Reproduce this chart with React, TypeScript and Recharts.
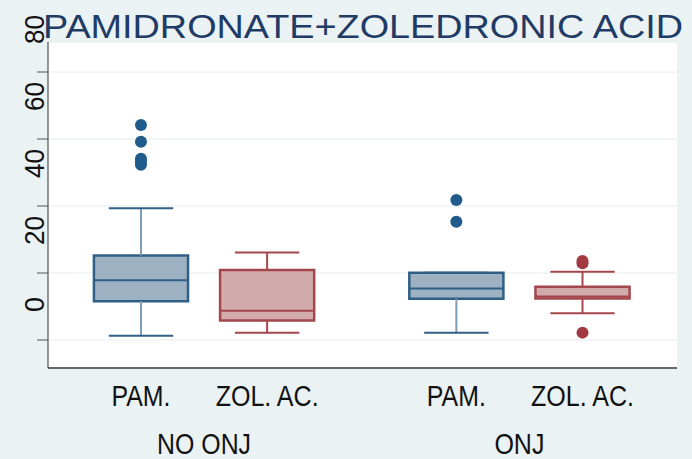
import {
  CartesianGrid,
  ComposedChart,
  ReferenceArea,
  ReferenceLine,
  Scatter,
  XAxis,
  YAxis,
} from 'recharts'

const title = 'PAMIDRONATE+ZOLEDRONIC ACID'
const groups = ['NO ONJ', 'ONJ']
const drugs = ['PAM.', 'ZOL. AC.']
const yTicks = [0, 20, 40, 60, 80]

// box order: PAM/NO ONJ, ZOL/NO ONJ, PAM/ONJ, ZOL/ONJ
const boxDrug = [0, 1, 0, 1]
const boxGroup = [0, 0, 1, 1]
const whiskerLow = [1.3, 2.2, 2.2, 8.0]
const q1 = [11.6, 5.8, 12.3, 12.4]
const median = [17.8, 8.7, 15.4, 13.0]
const q3 = [25.2, 20.9, 20.1, 15.9]
const whiskerHigh = [39.3, 26.1, 20.1, 20.4]
const outliers = [
  [64.2, 59.2, 54.1, 53.2, 52.3],
  [],
  [41.8, 35.3],
  [23.6, 22.9, 2.2],
]

const W = 692
const H = 459
const FONT = "'Liberation Sans', Arial, sans-serif"
const BOX_HALF = 0.373
const CAP_HALF = 0.255

const palette = [
  { fill: '#9DB1C3', stroke: '#2F5F86', whisker: '#7D9CB6', dot: '#1F5C8B' },
  { fill: '#D2ABAD', stroke: '#A4474D', whisker: '#A8494F', dot: '#A23B41' },
]

// slot position on the x scale: two boxes per group, a wider gap between groups
const positions = boxDrug.map((d, i) => 1 + d + boxGroup[i] * 2.5)
const groupCenters = groups.map((_, g) => 1.5 + g * 2.5)

const drugLength = [59, 103]
const groupLength = [94, 50]

function YTick(props: any) {
  const { y, payload } = props
  return (
    <text
      transform={`translate(44, ${y - 28}) rotate(-90)`}
      textAnchor="start"
      fontSize={27}
      fontFamily={FONT}
      fill="#111"
      textLength={payload.value === 0 ? 15 : 29}
      lengthAdjust="spacingAndGlyphs"
    >
      {payload.value}
    </text>
  )
}

function DrugTick(props: any) {
  const { x, y, index } = props
  const d = index % 2
  return (
    <text
      x={x}
      y={y + 38}
      textAnchor="middle"
      fontSize={30}
      fontFamily={FONT}
      fill="#111"
      textLength={drugLength[d]}
      lengthAdjust="spacingAndGlyphs"
    >
      {drugs[d]}
    </text>
  )
}

function GroupTick(props: any) {
  const { x, y, index } = props
  return (
    <text
      x={x}
      y={y + 46}
      textAnchor="middle"
      fontSize={30}
      fontFamily={FONT}
      fill="#111"
      textLength={groupLength[index]}
      lengthAdjust="spacingAndGlyphs"
    >
      {groups[index]}
    </text>
  )
}

export default function App() {
  const outlierData = positions.map((x, i) => outliers[i].map((y) => ({ x, y })))

  return (
    <div
      style={{
        position: 'absolute',
        left: 0,
        top: 0,
        width: W,
        height: H,
        background: '#EAF2F3',
      }}
    >
      <ComposedChart
        width={W}
        height={H}
        margin={{ top: 42, right: 15, left: 0, bottom: 0 }}
      >
        <CartesianGrid vertical={false} stroke="#E4ECEE" fill="#FFFFFF" />
        <XAxis
          type="number"
          dataKey="x"
          domain={[0.263, 5.249]}
          ticks={positions}
          allowDataOverflow
          height={40}
          tickSize={0}
          tickMargin={0}
          tickLine={false}
          axisLine={{ stroke: '#666', strokeWidth: 2 }}
          tick={<DrugTick />}
          interval={0}
        />
        <XAxis
          xAxisId="grp"
          type="number"
          dataKey="x"
          domain={[0.263, 5.249]}
          ticks={groupCenters}
          allowDataOverflow
          height={51}
          tickSize={0}
          tickMargin={0}
          tickLine={false}
          axisLine={false}
          tick={<GroupTick />}
          interval={0}
        />
        <YAxis
          type="number"
          domain={[-8.36, 88.96]}
          ticks={yTicks}
          allowDataOverflow
          width={48}
          tickSize={11}
          tickLine={{ stroke: '#555' }}
          axisLine={{ stroke: '#333' }}
          tick={<YTick />}
          interval={0}
        />

        {positions.map((x, i) => {
          const c = palette[boxDrug[i]]
          return (
            <ReferenceArea
              key={`box-${i}`}
              x1={x - BOX_HALF}
              x2={x + BOX_HALF}
              y1={q1[i]}
              y2={q3[i]}
              fill={c.fill}
              fillOpacity={1}
              stroke={c.stroke}
              strokeWidth={2.5}
            />
          )
        })}

        {positions.flatMap((x, i) => {
          const c = palette[boxDrug[i]]
          return [
            <ReferenceLine
              key={`wu-${i}`}
              segment={[{ x, y: q3[i] }, { x, y: whiskerHigh[i] }]}
              stroke={c.whisker}
              strokeWidth={2}
            />,
            <ReferenceLine
              key={`wl-${i}`}
              segment={[{ x, y: q1[i] }, { x, y: whiskerLow[i] }]}
              stroke={c.whisker}
              strokeWidth={2}
            />,
            <ReferenceLine
              key={`cu-${i}`}
              segment={[
                { x: x - CAP_HALF, y: whiskerHigh[i] },
                { x: x + CAP_HALF, y: whiskerHigh[i] },
              ]}
              stroke={c.stroke}
              strokeWidth={2}
            />,
            <ReferenceLine
              key={`cl-${i}`}
              segment={[
                { x: x - CAP_HALF, y: whiskerLow[i] },
                { x: x + CAP_HALF, y: whiskerLow[i] },
              ]}
              stroke={c.stroke}
              strokeWidth={2}
            />,
            <ReferenceLine
              key={`md-${i}`}
              segment={[
                { x: x - BOX_HALF, y: median[i] },
                { x: x + BOX_HALF, y: median[i] },
              ]}
              stroke={c.stroke}
              strokeWidth={2}
            />,
          ]
        })}

        {outlierData.map((pts, i) => (
          <Scatter
            key={`out-${i}`}
            data={pts}
            dataKey="y"
            isAnimationActive={false}
            shape={(p: any) => (
              <circle cx={p.cx} cy={p.cy} r={6} fill={palette[boxDrug[i]].dot} />
            )}
          />
        ))}
      </ComposedChart>
      <svg
        width={W}
        height={50}
        style={{ position: 'absolute', left: 0, top: 0, pointerEvents: 'none' }}
      >
        <text
          x={43}
          y={38}
          fontSize={33}
          fontFamily={FONT}
          fill="#1F3B66"
          textLength={640}
          lengthAdjust="spacingAndGlyphs"
        >
          {title}
        </text>
      </svg>
    </div>
  )
}
